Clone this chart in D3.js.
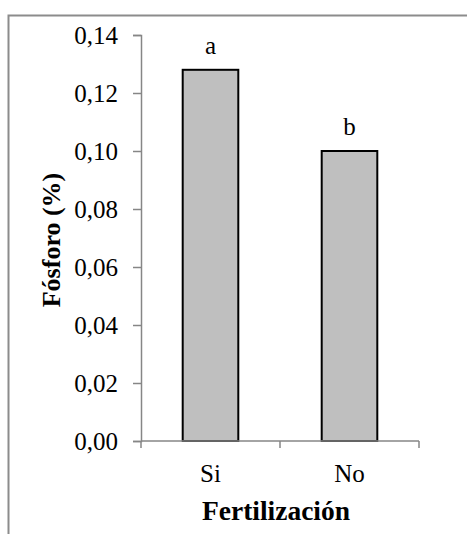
<!DOCTYPE html>
<html>
<head>
<meta charset="utf-8">
<script src="https://cdn.jsdelivr.net/npm/d3@7"></script>
<style>
  html, body { margin: 0; padding: 0; background: #fff; }
</style>
</head>
<body>
<div id="chart"></div>
<script>
// Chart data
const categories = ["Si", "No"];
const values = [0.128, 0.100];
const letters = ["a", "b"];
const yTicks = [0, 0.02, 0.04, 0.06, 0.08, 0.10, 0.12, 0.14];

const width = 467;
const height = 534;
const serif = "'Liberation Serif', Tinos, 'Times New Roman', Times, 'DejaVu Serif', serif";

const svg = d3.select("#chart")
    .append("svg")
    .attr("width", width)
    .attr("height", height)
    .attr("font-family", serif);

svg.append("rect")
    .attr("width", width)
    .attr("height", height)
    .attr("fill", "#fff");

// Chart border (only top and left edges are inside the picture)
svg.append("path")
    .attr("d", `M8.5,${height + 5}V15.5H${width + 5}`)
    .attr("fill", "none")
    .attr("stroke", "#8c8c8c")
    .attr("stroke-width", 2);

// Scales
const y = d3.scaleLinear()
    .domain([0, 0.14])
    .range([441, 35]);

const x = d3.scaleBand()
    .domain(categories)
    .range([141, 419])
    .paddingInner(0.6)
    .paddingOuter(0.3);

// Y axis
const yAxis = svg.append("g")
    .attr("transform", "translate(141,0)")
    .call(d3.axisLeft(y)
        .tickValues(yTicks)
        .tickSize(8)
        .tickPadding(15)
        .tickFormat(d => d.toFixed(2).replace(".", ",")));

yAxis.attr("font-family", serif).attr("font-size", 25);
yAxis.select(".domain").attr("stroke", "#868686").attr("stroke-width", 1.5);
yAxis.selectAll(".tick line").attr("stroke", "#868686").attr("stroke-width", 1.5);

// Bars
svg.selectAll(".bar")
    .data(values)
    .enter()
    .append("rect")
    .attr("class", "bar")
    .attr("x", (d, i) => x(categories[i]))
    .attr("y", d => y(d))
    .attr("width", x.bandwidth())
    .attr("height", d => y(0) - y(d))
    .attr("fill", "#bfbfbf")
    .attr("stroke", "#000")
    .attr("stroke-width", 2);

// X axis: labels at band centres, tick marks between categories
const xAxis = svg.append("g")
    .attr("transform", "translate(0,441)")
    .call(d3.axisBottom(x).tickSize(0).tickPadding(23));

xAxis.attr("font-family", serif).attr("font-size", 25);
xAxis.select(".domain").remove();

xAxis.append("line")
    .attr("x1", x.range()[0])
    .attr("x2", x.range()[1])
    .attr("stroke", "#868686")
    .attr("stroke-width", 1.5);

const bounds = [0, 1, 2].map(i => x.range()[0] + i * x.step());
xAxis.selectAll(".bound")
    .data(bounds)
    .enter()
    .append("line")
    .attr("class", "bound")
    .attr("x1", d => d)
    .attr("x2", d => d)
    .attr("y1", 0)
    .attr("y2", 7)
    .attr("stroke", "#868686")
    .attr("stroke-width", 1.5);

// Significance letters
svg.selectAll(".letter")
    .data(values)
    .enter()
    .append("text")
    .attr("class", "letter")
    .attr("x", (d, i) => x(categories[i]) + x.bandwidth() / 2)
    .attr("y", d => y(d) - 16)
    .attr("text-anchor", "middle")
    .attr("font-size", 25)
    .text((d, i) => letters[i]);

// Axis titles
svg.append("text")
    .attr("transform", "translate(60,240) rotate(-90)")
    .attr("text-anchor", "middle")
    .attr("font-size", 26)
    .attr("font-weight", "bold")
    .text("Fósforo (%)");

svg.append("text")
    .attr("x", 276)
    .attr("y", 520)
    .attr("text-anchor", "middle")
    .attr("font-size", 27.5)
    .attr("font-weight", "bold")
    .text("Fertilización");
</script>
</body>
</html>
